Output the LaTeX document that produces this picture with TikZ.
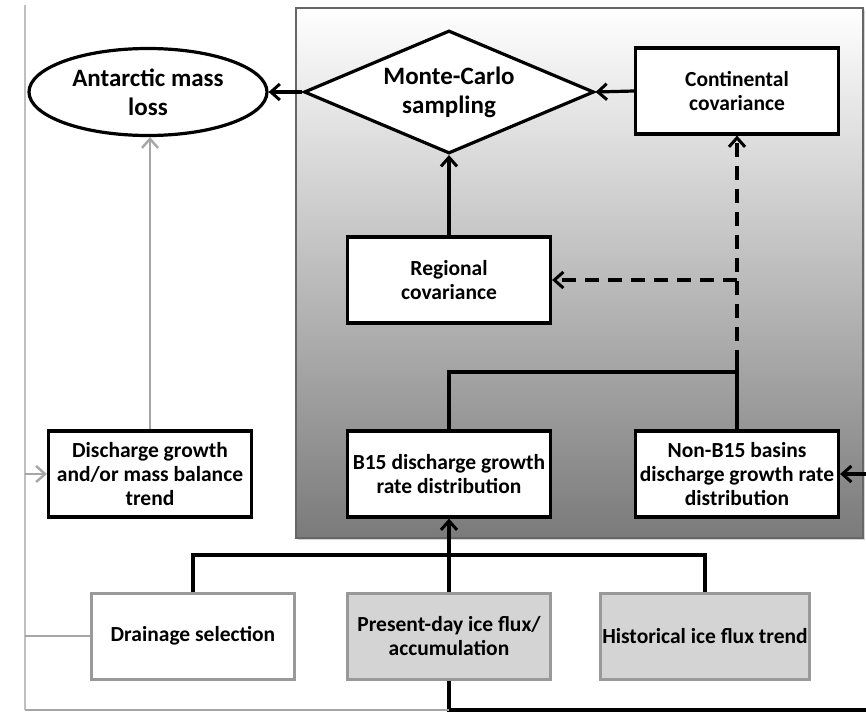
\documentclass[tikz,border=0pt]{standalone}
\usepackage{fontspec}
\setmainfont{Carlito}
\usetikzlibrary{shapes.geometric,arrows.meta,shadows}

\tikzset{
  box/.style={draw,line width=3.2pt,fill=white,minimum width=203pt,minimum height=86pt,
    inner sep=2pt,align=center,font=\bfseries\fontsize{21.5}{24}\selectfont},
  inbox/.style={box,line width=3pt,draw=black!40,fill=black!17},
  big/.style={draw,line width=3.2pt,fill=white,inner sep=0pt,align=center,
    font=\bfseries\fontsize{25}{29}\selectfont},
  link/.style={line width=3.2pt},
  arr/.style={link,-{Straight Barb[length=9pt,width=16pt,line width=3pt]}},
  dashlink/.style={arr,dash pattern=on 14pt off 9pt},
  glink/.style={line width=2.4pt,draw=black!35},
  garr/.style={glink,-{Straight Barb[length=9pt,width=16pt,line width=2.4pt]}},
}

\begin{document}
\begin{tikzpicture}[x=1pt,y=-1pt]
\useasboundingbox (0,0) rectangle (866,712);
% shaded panel behind the sampling steps
\draw[black!60,line width=1.3pt,top color=white,bottom color=black!52,
  drop shadow={shadow xshift=2pt,shadow yshift=-2pt,opacity=0.35}] (296,8) rectangle (863,538);

\node[big,ellipse,minimum width=238pt,minimum height=87pt] (loss) at (148,92) {Antarctic mass\\loss};
\node[big,diamond,aspect=2.33,minimum width=290pt,minimum height=123pt] (mc) at (449,92) {Monte-Carlo\\sampling};
\node[box] (cont) at (737,91) {Continental\\covariance};
\node[box] (reg) at (449,280) {Regional\\covariance};
\node[box] (b15) at (449,474) {B15 discharge growth\\rate distribution};
\node[box] (nonb) at (737,474) {Non-B15 basins\\discharge growth rate\\distribution};
\node[box] (trend) at (150,474) {Discharge growth\\and/or mass balance\\trend};
\node[inbox,fill=white] (drain) at (193,636) {Drainage selection};
\node[inbox] (flux) at (449,636) {Present-day ice flux/\\accumulation};
\node[inbox] (hist) at (705,636) {Historical ice flux trend};

\coordinate (ltop) at (25,5);
\coordinate (lbot) at (25,710);
\coordinate (rbot) at (866,710);
\coordinate (rin) at (866,474);
\coordinate (join) at (737,372);
\coordinate (bar) at (449,555);

% black connectors
\draw[arr] (mc.west) -- (loss.east);
\draw[arr] (cont.west) -- (mc.east);
\draw[arr] (reg.north) -- (mc.south);
\draw[link] (b15.north) |- (join);
\draw[link] (nonb.north) -- (join) -- ++(0,-8);
\draw[dashlink] (join) ++(0,-8) -- (cont.south);
\draw[dashlink] (join |- reg.east) -- (reg.east);
\draw[link] (drain.north) |- (bar) -| (hist.north);
\draw[arr] (flux.north) -- (b15.south);
\draw[link] (flux.south) |- (rbot);
\draw[arr] (rin) -- (nonb.east);

% grey connectors
\draw[garr] (trend.north) -- (trend.north |- loss.south);
\draw[glink,black!25] (ltop) -- (lbot);
\draw[glink] (lbot) -- (flux.south |- lbot);
\draw[garr] (ltop |- trend.west) -- (trend.west);
\draw[glink] (drain.west) -- (ltop |- drain.west);
\end{tikzpicture}
\end{document}
